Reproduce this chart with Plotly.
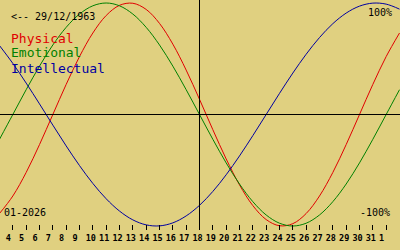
import plotly.graph_objects as go

# Days shown: Jan 3 .. Feb 2 2026 (32 = Feb 1, 33 = Feb 2)
days = list(range(3, 34))
physical = [-0.8879, -0.7308, -0.5196, -0.2698, 0.0, 0.2698, 0.5196, 0.7308, 0.8879, 0.9791,
            0.9977, 0.9423, 0.8170, 0.6311, 0.3984, 0.1362, -0.1362, -0.3984, -0.6311, -0.8170,
            -0.9423, -0.9977, -0.9791, -0.8879, -0.7308, -0.5196, -0.2698, 0.0, 0.2698, 0.5196, 0.7308]
emotional = [-0.2225, 0.0, 0.2225, 0.4339, 0.6235, 0.7818, 0.9010, 0.9749, 1.0, 0.9749,
             0.9010, 0.7818, 0.6235, 0.4339, 0.2225, 0.0, -0.2225, -0.4339, -0.6235, -0.7818,
             -0.9010, -0.9749, -1.0, -0.9749, -0.9010, -0.7818, -0.6235, -0.4339, -0.2225, 0.0, 0.2225]
intellectual = [0.6182, 0.4582, 0.2817, 0.0951, -0.0951, -0.2817, -0.4582, -0.6182, -0.7557, -0.8660,
                -0.9450, -0.9898, -0.9989, -0.9718, -0.9096, -0.8146, -0.6901, -0.5406, -0.3717, -0.1893,
                0.0, 0.1893, 0.3717, 0.5406, 0.6901, 0.8146, 0.9096, 0.9718, 0.9989, 0.9898, 0.9450]
tick_days = list(range(4, 33))
tick_labels = [str(d) for d in range(4, 32)] + ["1"]
today = 18
birth_label = "<-- 29/12/1963"
month_label = "01-2026"
series_names = ["Physical", "Emotional", "Intellectual"]
series_colors = ["#e00000", "#008000", "#0000a0"]

W, H = 400, 250
BG = "#e0d080"
MONO = "DejaVu Sans Mono"
# pad single-digit labels so the digit sits left of its tick, as in the reference
tick_text = [t + "\u00a0" if len(t) == 1 else t for t in tick_labels]

fig = go.Figure()
for name, vals, col in zip(series_names, [physical, emotional, intellectual], series_colors):
    fig.add_trace(go.Scatter(x=days, y=vals, mode="lines", name=name,
                             line=dict(color=col, width=1, shape="spline"),
                             hoverinfo="skip"))

def px(x):
    return x / W

def py(y):
    return 1 - y / H

XSHIFT = 0.5 / (W / 30)  # half pixel in days, for crisp lines

# axis lines
fig.add_shape(type="line", xref="paper", yref="y", x0=0, x1=1, y0=0, y1=0,
              line=dict(color="black", width=1))
fig.add_shape(type="line", xref="x", yref="paper", x0=today, x1=today, y0=py(0), y1=py(230),
              line=dict(color="black", width=1))

ann = []
def text(t, x, y, size, color="black", anchor="left"):
    ann.append(dict(text=t, xref="paper", yref="paper", x=px(x), y=py(y),
                    xanchor=anchor, yanchor="middle", showarrow=False,
                    font=dict(family=MONO, size=size, color=color), borderpad=0))

text(birth_label, 10, 16.5, 10)
for name, col, yy in zip(series_names, series_colors, [38, 53, 68]):
    text(name, 9.5, yy, 13, col)
text("100%", 393, 12, 10, anchor="right")
text("-100%", 391, 212, 10, anchor="right")
text(month_label, 3, 212, 10)

fig.update_layout(
    width=W, height=H,
    margin=dict(l=0, r=0, t=0, b=0),
    paper_bgcolor=BG, plot_bgcolor=BG,
    showlegend=False,
    annotations=ann,
    hovermode=False,
    xaxis=dict(range=[3 + XSHIFT, 33 + XSHIFT], tickmode="array", tickvals=tick_days, ticktext=tick_text,
               ticks="inside", ticklen=5, tickwidth=1, tickcolor="black",
               showgrid=False, zeroline=False, showline=False,
               anchor="free", position=py(230), side="bottom",
               ticklabelshift=-2, ticklabelstandoff=1,
               tickfont=dict(family=MONO, size=8.5, color="black", weight="bold"), fixedrange=True),
    yaxis=dict(range=[-1.2152, 1.0269], showgrid=False, zeroline=False, showline=False,
               showticklabels=False, ticks="", domain=[0, 1], fixedrange=True),
)

fig.write_html("out.html", config={"displayModeBar": False, "staticPlot": True})
